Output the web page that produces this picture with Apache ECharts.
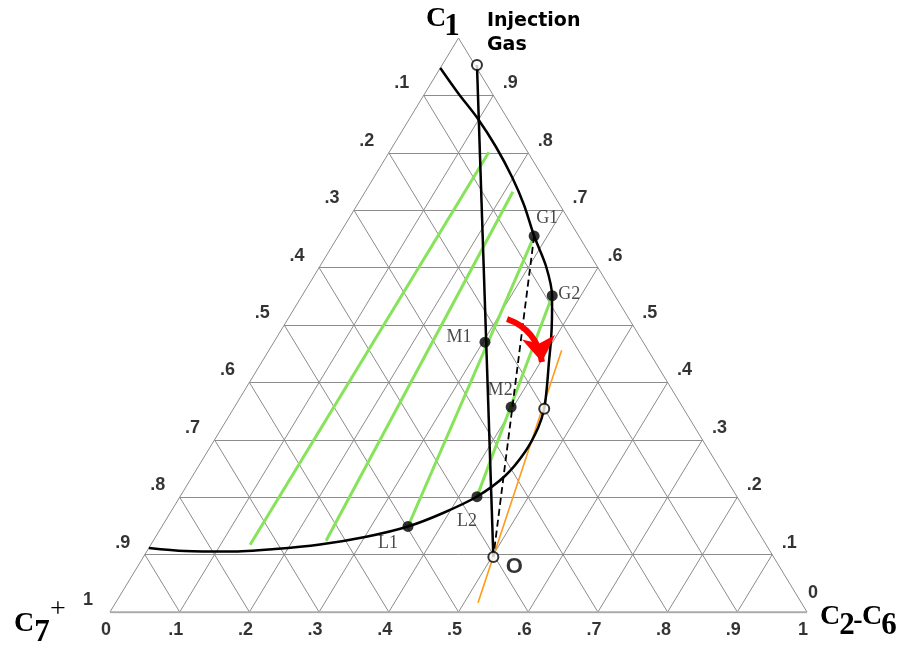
<!DOCTYPE html>
<html>
<head>
<meta charset="utf-8">
<script src="https://cdn.jsdelivr.net/npm/echarts/dist/echarts.min.js"></script>
<style>
html,body{margin:0;padding:0;background:#fff;}
#chart{width:901px;height:647px;}
</style>
</head>
<body>
<div id="chart"></div>
<script>
// ---------- DATA (ternary compositions: C1 fraction, C2-C6 fraction) ----------
const gridTicks = [0.1, 0.2, 0.3, 0.4, 0.5, 0.6, 0.7, 0.8, 0.9];

const bottomTickValues = [0, 0.1, 0.2, 0.3, 0.4, 0.5, 0.6, 0.7, 0.8, 0.9, 1];   // C2-C6
const bottomTickLabels = ['0', '.1', '.2', '.3', '.4', '.5', '.6', '.7', '.8', '.9', '1'];
const leftTickValues = [0.1, 0.2, 0.3, 0.4, 0.5, 0.6, 0.7, 0.8, 0.9, 1];        // C7+
const leftTickLabels = ['.1', '.2', '.3', '.4', '.5', '.6', '.7', '.8', '.9', '1'];
const rightTickValues = [0.9, 0.8, 0.7, 0.6, 0.5, 0.4, 0.3, 0.2, 0.1, 0];       // C1
const rightTickLabels = ['.9', '.8', '.7', '.6', '.5', '.4', '.3', '.2', '.1', '0'];

// phase envelope (from the liquid end at the C7+ side, round to the gas end)
const envelopeC1  = [0.1115, 0.1063, 0.1054, 0.1098, 0.1176, 0.1307, 0.149, 0.1725, 0.2012, 0.2369, 0.2787, 0.3206, 0.3537, 0.3937, 0.4355, 0.4739, 0.5122, 0.5505, 0.6028, 0.655, 0.709, 0.7578, 0.8101, 0.8589, 0.9042, 0.9477];
const envelopeC26 = [0.000, 0.0545, 0.1195, 0.1818, 0.2425, 0.3006, 0.353, 0.3916, 0.426, 0.4482, 0.456, 0.4538, 0.446, 0.4301, 0.412, 0.3958, 0.378, 0.359, 0.3241, 0.281, 0.2395, 0.1979, 0.1488, 0.0986, 0.0472, 0.000];

// tie lines (liquid end -> vapour end)
const tieLiquidC1  = [0.117, 0.124, 0.149, 0.201];
const tieLiquidC26 = [0.1425, 0.248, 0.353, 0.426];
const tieVaporC1   = [0.801, 0.732, 0.655, 0.551];
const tieVaporC26  = [0.143, 0.212, 0.281, 0.359];

// labelled filled points
const pointNames = ['G1', 'G2', 'M1', 'M2', 'L1', 'L2'];
const pointC1    = [0.655, 0.551, 0.470, 0.357, 0.149, 0.201];
const pointC26   = [0.281, 0.359, 0.303, 0.397, 0.353, 0.426];

// open points
const openNames = ['Injection Gas', 'O', 'Critical'];
const openC1    = [0.953, 0.096, 0.354];
const openC26   = [0.050, 0.502, 0.446];

// dilution line (injection gas -> oil O) and dashed line (G1 -> O)
const dilutionC1  = [0.953, 0.096];
const dilutionC26 = [0.050, 0.502];
const dashedC1    = [0.655, 0.096];
const dashedC26   = [0.281, 0.502];

// orange tangent line
const tangentC1  = [0.456, 0.016];
const tangentC26 = [0.420, 0.520];

// red arrow (start, tip)
const arrowC1  = [0.5105, 0.4355];
const arrowC26 = [0.3144, 0.402];

// ---------- helpers ----------
const toXY = (c1, c26) => [c26 + c1 / 2, c1];
const seg = (a, b) => ({ coords: [a, b] });

// grid segments
const gridSegs = [];
gridTicks.forEach(k => {
  gridSegs.push(seg([k / 2, k], [1 - k / 2, k]));                 // C1 = k
  gridSegs.push(seg([k, 0], [k + (1 - k) / 2, 1 - k]));           // C2-C6 = k
  gridSegs.push(seg([1 - k, 0], [(1 - k) / 2, 1 - k]));           // C7+ = k
});
const sideSegs = [seg([0, 0], [0.5, 1]), seg([0.5, 1], [1, 0])];
const baseSeg = [seg([0, 0], [1, 0])];

const envelope = envelopeC1.map((c, i) => toXY(c, envelopeC26[i]));
const ties = tieLiquidC1.map((c, i) => seg(toXY(c, tieLiquidC26[i]), toXY(tieVaporC1[i], tieVaporC26[i])));

const labelOffsets = {
  G1: [13, -18], G2: [17, -1], M1: [-26, -5], M2: [-11, -17], L1: [-20, 17], L2: [-10, 25], O: [21, 10]
};

const pts = pointNames.map((n, i) => ({
  name: n, value: toXY(pointC1[i], pointC26[i]),
  label: { show: true, formatter: n, offset: labelOffsets[n] }
}));
const opens = openNames.map((n, i) => ({
  name: n, value: toXY(openC1[i], openC26[i]),
  label: n === 'O' ? { show: true, formatter: 'O', offset: labelOffsets.O,
    fontFamily: 'Liberation Sans, Arial, sans-serif', fontWeight: 'bold', fontSize: 22, color: '#000' } : { show: false }
}));

const tickLabelStyle = { fontFamily: 'Liberation Sans, Arial, sans-serif', fontWeight: 'bold', fontSize: 18, color: '#000' };
const bottomLabels = bottomTickValues.map((v, i) => ({ value: toXY(0, v), label: { formatter: bottomTickLabels[i], offset: [-4, 18] } }));
const leftLabels = leftTickValues.map((v, i) => ({ value: toXY(1 - v, 0), label: { formatter: leftTickLabels[i], offset: [-22, -12] } }));
const rightLabels = rightTickValues.map((v, i) => ({ value: toXY(v, 1 - v), label: { formatter: rightTickLabels[i], offset: v === 0 ? [6, -19] : [17, -12] } }));

const labelScatter = (data) => ({
  type: 'scatter', data, symbolSize: 1, itemStyle: { color: 'rgba(0,0,0,0)' }, silent: true, z: 20,
  label: Object.assign({ show: true, position: 'inside', align: 'center', verticalAlign: 'middle' }, tickLabelStyle)
});

const serifBig = 'bold 28px "Liberation Serif", "Times New Roman", serif';
const serifSub = 'bold 31px "Liberation Serif", "Times New Roman", serif';
const txt = (x, y, text, font) => ({ type: 'text', x, y, style: { text, font, fill: '#000', textAlign: 'center', textVerticalAlign: 'middle' } });

const chart = echarts.init(document.getElementById('chart'), null, { renderer: 'canvas' });
chart.setOption({
  animation: false,
  backgroundColor: '#fff',
  grid: { left: 110, right: 94, top: 38, bottom: 35 },
  xAxis: { type: 'value', min: 0, max: 1, show: false },
  yAxis: { type: 'value', min: 0, max: 1, show: false },
  series: [
    { type: 'lines', coordinateSystem: 'cartesian2d', data: gridSegs, silent: true, z: 1,
      lineStyle: { color: '#8c8c8c', width: 1, opacity: 1 } },
    { type: 'lines', coordinateSystem: 'cartesian2d', data: sideSegs, silent: true, z: 1,
      lineStyle: { color: '#8c8c8c', width: 1, opacity: 1 } },
    { type: 'lines', coordinateSystem: 'cartesian2d', data: baseSeg, silent: true, z: 1,
      lineStyle: { color: '#aaaaaa', width: 2.5, opacity: 1 } },
    { type: 'lines', coordinateSystem: 'cartesian2d', data: ties, silent: true, z: 3,
      lineStyle: { color: '#86e35a', width: 3, opacity: 1 } },
    { type: 'lines', coordinateSystem: 'cartesian2d', silent: true, z: 4,
      data: [seg(toXY(tangentC1[0], tangentC26[0]), toXY(tangentC1[1], tangentC26[1]))],
      lineStyle: { color: '#ff9a1a', width: 1.6, opacity: 1 } },
    { type: 'line', data: envelope, smooth: 0.3, symbol: 'none', clip: false, z: 5,
      lineStyle: { color: '#000', width: 2.5 } },
    { type: 'lines', coordinateSystem: 'cartesian2d', silent: true, z: 5,
      data: [seg(toXY(dilutionC1[0], dilutionC26[0]), toXY(dilutionC1[1], dilutionC26[1]))],
      lineStyle: { color: '#000', width: 2.5, opacity: 1 } },
    { type: 'lines', coordinateSystem: 'cartesian2d', silent: true, z: 5,
      data: [seg(toXY(dashedC1[0], dashedC26[0]), toXY(dashedC1[1], dashedC26[1]))],
      lineStyle: { color: '#000', width: 1.8, type: [7, 4], opacity: 1 } },
    { type: 'lines', coordinateSystem: 'cartesian2d', silent: true, z: 6,
      data: [seg(toXY(arrowC1[0], arrowC26[0]), toXY(arrowC1[1], arrowC26[1]))],
      symbol: ['none', 'arrow'], symbolSize: 25,
      lineStyle: { color: '#ff0000', width: 6, curveness: 0.3, opacity: 1 },
      itemStyle: { color: '#ff0000' } },
    { type: 'scatter', data: pts, symbolSize: 11, z: 10, itemStyle: { color: '#000' },
      label: { show: true, position: 'inside', align: 'center', verticalAlign: 'middle',
        fontFamily: 'Liberation Serif, Times New Roman, serif', fontSize: 18, color: '#1a1a1a' } },
    { type: 'scatter', data: opens, symbolSize: 10, z: 10,
      itemStyle: { color: '#fff', borderColor: '#000', borderWidth: 2 },
      label: { position: 'inside', align: 'center', verticalAlign: 'middle' } },
    labelScatter(bottomLabels),
    labelScatter(leftLabels),
    labelScatter(rightLabels)
  ],
  graphic: [
    txt(436, 19, 'C', serifBig),
    txt(452, 27, '1', serifSub),
    { type: 'text', x: 487, y: 21, style: { text: 'Injection', font: 'bold 19px "DejaVu Sans", sans-serif', fill: '#000', textAlign: 'left', textVerticalAlign: 'middle' } },
    { type: 'text', x: 487, y: 45, style: { text: 'Gas', font: 'bold 19px "DejaVu Sans", sans-serif', fill: '#000', textAlign: 'left', textVerticalAlign: 'middle' } },
    txt(24, 624, 'C', serifBig),
    txt(42, 633, '7', serifSub),
    txt(58, 610, '+', '28px "Liberation Serif", serif'),
    txt(830, 617, 'C', serifBig),
    txt(847, 626, '2', serifSub),
    txt(858, 621, '-', serifBig),
    txt(872, 617, 'C', serifBig),
    txt(889, 626, '6', serifSub)
  ]
});
</script>
</body>
</html>
